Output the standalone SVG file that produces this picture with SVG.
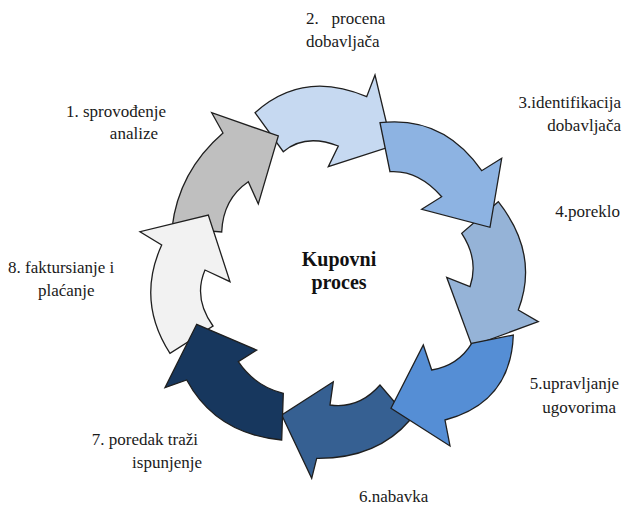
<svg xmlns="http://www.w3.org/2000/svg" width="636" height="510" viewBox="0 0 636 510">
  <style>
    .arrow { stroke: #1f1f1f; stroke-width: 1.3; stroke-linejoin: miter; }
    .lbl { font-family: "Liberation Serif", "DejaVu Serif", "Times New Roman", serif; font-size: 17px; fill: #1a1a1a; }
    .title { font-family: "Liberation Serif", "DejaVu Serif", "Times New Roman", serif; font-size: 20px; font-weight: bold; fill: #111; text-anchor: middle; }
  </style>
  <rect width="636" height="510" fill="#ffffff"/>

  <!-- cycle of curved arrows; stacking order keeps each head over/under its neighbour -->
  <g id="connectors">
    <path id="arrow2" class="arrow" fill="#C6D9F1"
      d="M255,112.7 Q303.2,69.3 366.7,96.7 L375,75 L392,146 L328.3,166.7 L338.3,146 Q305.2,133.2 283.3,151.7 Z"/>
    <path id="arrow4" class="arrow" fill="#95B3D7"
      d="M498.3,201.7 Q539.7,254.2 518.3,310 L538.3,321.7 L472,346 L446.7,277.3 L470,286.7 Q479.2,260 461.7,233.3 Z"/>
    <path id="arrow6" class="arrow" fill="#366092"
      d="M410,420 Q376.7,458.9 316.7,458.3 L311.7,478.3 L281.7,415 L333.3,381.7 L330,405 Q359,409 380,385 Z"/>
    <path id="arrow1" class="arrow" fill="#BFBFBF"
      d="M172,228 Q178.5,171.5 223,133 L211.7,112.7 L278.3,136 L258.3,204 L248.3,181.7 Q223,199 221.7,232 Z"/>
    <path id="arrow3" class="arrow" fill="#8DB3E2"
      d="M380,122.7 Q443.2,115.3 481.7,170.7 L501.7,158.3 L490,227.3 L421.7,209.3 L441.7,196.7 Q418.2,169.8 390,171.7 Z"/>
    <path id="arrow5" class="arrow" fill="#558ED5"
      d="M513.3,335 Q510.9,402.5 445,420 L450,446 L391,408.3 L423.3,345 L431.7,370 Q458.3,365.4 471.7,343.3 Z"/>
    <path id="arrow8" class="arrow" fill="#F2F2F2"
      d="M170,353.3 Q136.2,300.9 161.7,245 L140,231.7 L208.3,215 L230,281.7 L205,270 Q193,298 213,326 Z"/>
    <path id="arrow7" class="arrow" fill="#17375E"
      d="M281.7,440 Q215.8,434 186.7,380 L165,387.7 L196.7,324.3 L256.7,350 L238.3,361.7 Q255.2,386.5 283.3,393.3 Z"/>
  </g>

  <g id="center">
    <text class="title" x="339" y="266">Kupovni</text>
    <text class="title" x="339" y="289">proces</text>
  </g>

  <g id="step1">
    <text class="lbl" x="166" y="117" text-anchor="end">1. sprovođenje</text>
    <text class="lbl" x="158" y="139" text-anchor="end">analize</text>
  </g>
  <g id="step2">
    <text class="lbl" x="306" y="24" xml:space="preserve">2.   procena</text>
    <text class="lbl" x="306" y="47">dobavljača</text>
  </g>
  <g id="step3">
    <text class="lbl" x="621" y="108" text-anchor="end">3.identifikacija</text>
    <text class="lbl" x="621" y="131" text-anchor="end">dobavljača</text>
  </g>
  <g id="step4">
    <text class="lbl" x="620" y="217" text-anchor="end">4.poreklo</text>
  </g>
  <g id="step5">
    <text class="lbl" x="619" y="389" text-anchor="end">5.upravljanje</text>
    <text class="lbl" x="616" y="413" text-anchor="end">ugovorima</text>
  </g>
  <g id="step6">
    <text class="lbl" x="359" y="502">6.nabavka</text>
  </g>
  <g id="step7">
    <text class="lbl" x="198" y="445" text-anchor="end">7. poredak traži</text>
    <text class="lbl" x="202" y="468" text-anchor="end">ispunjenje</text>
  </g>
  <g id="step8">
    <text class="lbl" x="8" y="273">8. faktursianje i</text>
    <text class="lbl" x="38" y="296">plaćanje</text>
  </g>
</svg>
